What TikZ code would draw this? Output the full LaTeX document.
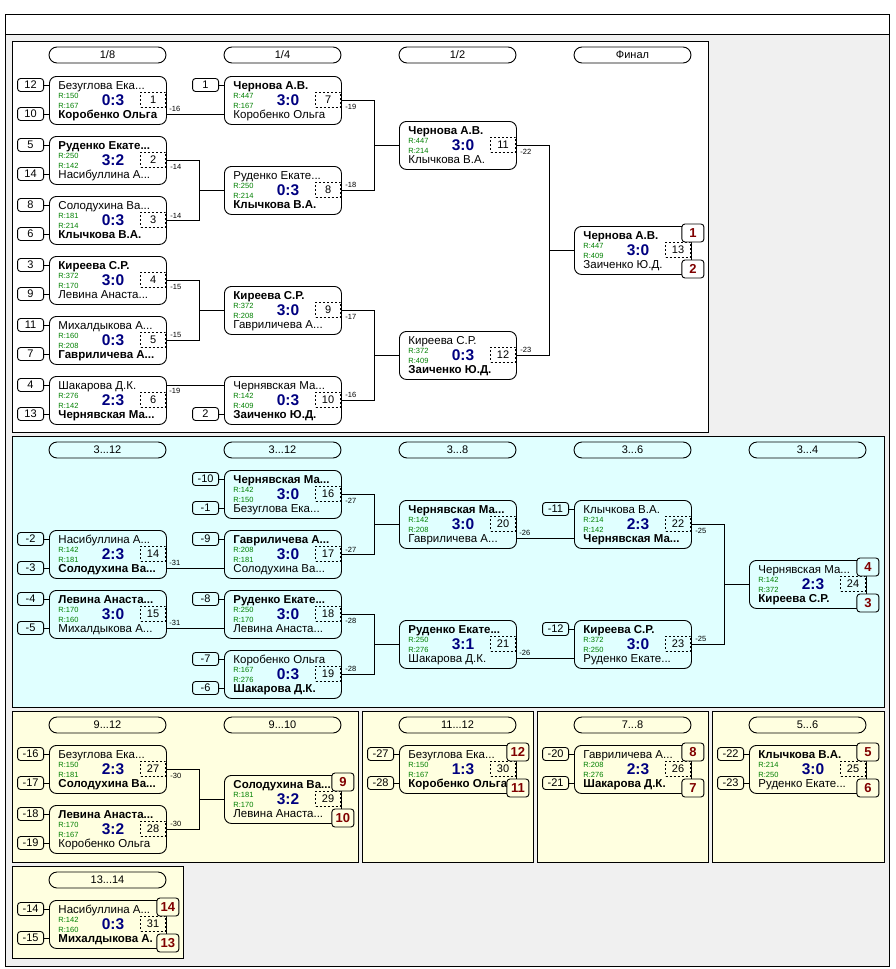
\documentclass[tikz,border=0pt]{standalone}
\usepackage{fontspec}
\setmainfont{Liberation Sans}
\usetikzlibrary{positioning}

\definecolor{rgreen}{RGB}{0,128,0}
\definecolor{scoreblue}{RGB}{0,0,128}
\definecolor{placered}{RGB}{128,0,0}
\definecolor{bggray}{RGB}{240,240,240}
\definecolor{cyanbg}{RGB}{224,255,255}
\definecolor{yellowbg}{RGB}{255,255,224}

% one match: id, left, top, upper name, R upper, R lower, score, lower name
\newcommand{\mtch}[8]{%
  \node[mbox] (m#1) at (#2,#3) {};
  \coordinate (m#1-a) at (#2,#3+9);
  \coordinate (m#1-b) at (#2,#3+38);
  \coordinate (m#1-ea) at (#2+117,#3+9);
  \coordinate (m#1-eb) at (#2+117,#3+38);
  \node[nm] (m#1-top) at (#2+9,#3+13) {#4};
  \node[rt] (m#1-r1) at (#2+9,#3+22) {R:#5};
  \node[rt] (m#1-r2) at (#2+9,#3+32) {R:#6};
  \node[nm] (m#1-bot) at (#2+9,#3+42) {#8};
  \node[sc] (m#1-sc) at (#2+64,#3+29) {#7};
  \node[numbox] (m#1-no) at (#2+117,#3+16) {#1};
}
% seed box left of a slot
\newcommand{\seed}[3]{%
  \node[seedbox, left=5pt of #1] (#2) {#3};
  \draw (#2) -- (#1);
}
% final places of a match
\newcommand{\place}[4]{%
  \node[placebox=#4] (m#1-p1) at ([xshift=1pt,yshift=-7pt]m#1.north east) {#2};
  \node[placebox=#4] (m#1-p2) at ([xshift=1pt,yshift=-43pt]m#1.north east) {#3};
}

\begin{document}
\begin{tikzpicture}[x=1pt, y=-1pt, line width=0.9pt,
    mbox/.style={draw, rounded corners=7pt, minimum width=117pt, minimum height=48pt,
                 inner sep=0pt, anchor=north west},
    nm/.style={anchor=base west, inner sep=0pt, font=\fontsize{11.5}{13}\selectfont},
    rt/.style={anchor=base west, inner sep=0pt, text=rgreen, font=\fontsize{7.5}{8}\selectfont},
    sc/.style={anchor=base, inner sep=0pt, text=scoreblue, font=\fontsize{15.5}{17}\selectfont\bfseries},
    numbox/.style={draw, dash pattern=on 2pt off 2pt, line width=0.8pt, minimum width=25pt,
                   minimum height=15pt, inner sep=0pt, anchor=north east,
                   font=\fontsize{11}{12}\selectfont},
    seedbox/.style={draw, rounded corners=3pt, minimum width=26pt, minimum height=13pt,
                    inner sep=0pt, font=\fontsize{11}{12}\selectfont},
    placebox/.style={draw, rounded corners=3pt, fill=#1, minimum width=22pt, minimum height=18pt,
                     inner sep=0pt, text=placered, font=\fontsize{13}{14}\selectfont\bfseries},
    placebox/.default=white,
    hdr/.style={draw, rounded corners=8pt, minimum width=117pt, minimum height=16pt,
                inner sep=0pt, font=\fontsize{11}{12}\selectfont},
    link/.style={draw},
    lbla/.style={pos=0, anchor=south west, inner sep=0pt, xshift=3pt, yshift=2pt,
                 font=\fontsize{7.5}{8}\selectfont},
    lblb/.style={pos=0, anchor=north west, inner sep=0pt, xshift=3pt, yshift=-3pt,
                 font=\fontsize{7.5}{8}\selectfont}
  ]
  \useasboundingbox (0,0) rectangle (895,969);
  \fill[white] (0,0) rectangle (895,969);

  % frames and panels
  \draw[fill=white] (5,14) rectangle (889,34);
  \draw[fill=bggray] (5,34) rectangle (889,966);
  \draw[fill=white] (12,41) rectangle (708,432);
  \draw[fill=cyanbg] (12,436) rectangle (884,707);
  \draw[fill=yellowbg] (12,711) rectangle (358,862);
  \draw[fill=yellowbg] (362,711) rectangle (533,862);
  \draw[fill=yellowbg] (537,711) rectangle (708,862);
  \draw[fill=yellowbg] (712,711) rectangle (884,862);
  \draw[fill=yellowbg] (12,866) rectangle (183,958);

  % headers
  \node[hdr] (h18) at (107.5,55) {1/8};
  \node[hdr] (h14) at (282.5,55) {1/4};
  \node[hdr] (h12) at (457.5,55) {1/2};
  \node[hdr] (hfin) at (632.5,55) {Финал};
  \node[hdr] (hc1) at (107.5,450) {3...12};
  \node[hdr] (hc2) at (282.5,450) {3...12};
  \node[hdr] (hc3) at (457.5,450) {3...8};
  \node[hdr] (hc4) at (632.5,450) {3...6};
  \node[hdr] (hc5) at (807.5,450) {3...4};
  \node[hdr] (hy1) at (107.5,725) {9...12};
  \node[hdr] (hy2) at (282.5,725) {9...10};
  \node[hdr] (hy3) at (457.5,725) {11...12};
  \node[hdr] (hy4) at (632.5,725) {7...8};
  \node[hdr] (hy5) at (807.5,725) {5...6};
  \node[hdr] (hy6) at (107.5,880) {13...14};

  % main bracket
  \mtch{1}{49}{76}{Безуглова Ека...}{150}{167}{0:3}{\textbf{Коробенко Ольга}}
  \mtch{2}{49}{136}{\textbf{Руденко Екате...}}{250}{142}{3:2}{Насибуллина А...}
  \mtch{3}{49}{196}{Солодухина Ва...}{181}{214}{0:3}{\textbf{Клычкова В.А.}}
  \mtch{4}{49}{256}{\textbf{Киреева С.Р.}}{372}{170}{3:0}{Левина Анаста...}
  \mtch{5}{49}{316}{Михалдыкова А...}{160}{208}{0:3}{\textbf{Гавриличева А...}}
  \mtch{6}{49}{376}{Шакарова Д.К.}{276}{142}{2:3}{\textbf{Чернявская Ма...}}
  \mtch{7}{224}{76}{\textbf{Чернова А.В.}}{447}{167}{3:0}{Коробенко Ольга}
  \mtch{8}{224}{166}{Руденко Екате...}{250}{214}{0:3}{\textbf{Клычкова В.А.}}
  \mtch{9}{224}{286}{\textbf{Киреева С.Р.}}{372}{208}{3:0}{Гавриличева А...}
  \mtch{10}{224}{376}{Чернявская Ма...}{142}{409}{0:3}{\textbf{Заиченко Ю.Д.}}
  \mtch{11}{399}{121}{\textbf{Чернова А.В.}}{447}{214}{3:0}{Клычкова В.А.}
  \mtch{12}{399}{331}{Киреева С.Р.}{372}{409}{0:3}{\textbf{Заиченко Ю.Д.}}
  \mtch{13}{574}{226}{\textbf{Чернова А.В.}}{447}{409}{3:0}{Заиченко Ю.Д.}
  \place{13}{1}{2}{white}

  \seed{m1-a}{s1a}{12}   \seed{m1-b}{s1b}{10}
  \seed{m2-a}{s2a}{5}    \seed{m2-b}{s2b}{14}
  \seed{m3-a}{s3a}{8}    \seed{m3-b}{s3b}{6}
  \seed{m4-a}{s4a}{3}    \seed{m4-b}{s4b}{9}
  \seed{m5-a}{s5a}{11}   \seed{m5-b}{s5b}{7}
  \seed{m6-a}{s6a}{4}    \seed{m6-b}{s6b}{13}
  \seed{m7-a}{s7a}{1}
  \seed{m10-b}{s10b}{2}

  \draw[link] (m1-eb) -- node[lbla] (l1) {-16} (m7-b);
  \draw[link] (m2.east) -- node[lblb] (l2) {-14} ++(33,0) |- (m8.west);
  \draw[link] (m3.east) -- node[lbla] (l3) {-14} ++(33,0) |- (m8.west);
  \draw[link] (m4.east) -- node[lblb] (l4) {-15} ++(33,0) |- (m9.west);
  \draw[link] (m5.east) -- node[lbla] (l5) {-15} ++(33,0) |- (m9.west);
  \draw[link] (m6-ea) -- node[lblb] (l6) {-19} (m10-a);
  \draw[link] (m7.east) -- node[lblb] (l7) {-19} ++(33,0) |- (m11.west);
  \draw[link] (m8.east) -- node[lbla] (l8) {-18} ++(33,0) |- (m11.west);
  \draw[link] (m9.east) -- node[lblb] (l9) {-17} ++(33,0) |- (m12.west);
  \draw[link] (m10.east) -- node[lbla] (l10) {-16} ++(33,0) |- (m12.west);
  \draw[link] (m11.east) -- node[lblb] (l11) {-22} ++(33,0) |- (m13.west);
  \draw[link] (m12.east) -- node[lbla] (l12) {-23} ++(33,0) |- (m13.west);

  % places 3 to 12
  \mtch{14}{49}{530}{Насибуллина А...}{142}{181}{2:3}{\textbf{Солодухина Ва...}}
  \mtch{15}{49}{590}{\textbf{Левина Анаста...}}{170}{160}{3:0}{Михалдыкова А...}
  \mtch{16}{224}{470}{\textbf{Чернявская Ма...}}{142}{150}{3:0}{Безуглова Ека...}
  \mtch{17}{224}{530}{\textbf{Гавриличева А...}}{208}{181}{3:0}{Солодухина Ва...}
  \mtch{18}{224}{590}{\textbf{Руденко Екате...}}{250}{170}{3:0}{Левина Анаста...}
  \mtch{19}{224}{650}{Коробенко Ольга}{167}{276}{0:3}{\textbf{Шакарова Д.К.}}
  \mtch{20}{399}{500}{\textbf{Чернявская Ма...}}{142}{208}{3:0}{Гавриличева А...}
  \mtch{21}{399}{620}{\textbf{Руденко Екате...}}{250}{276}{3:1}{Шакарова Д.К.}
  \mtch{22}{574}{500}{Клычкова В.А.}{214}{142}{2:3}{\textbf{Чернявская Ма...}}
  \mtch{23}{574}{620}{\textbf{Киреева С.Р.}}{372}{250}{3:0}{Руденко Екате...}
  \mtch{24}{749}{560}{Чернявская Ма...}{142}{372}{2:3}{\textbf{Киреева С.Р.}}
  \place{24}{4}{3}{cyanbg}

  \seed{m14-a}{s14a}{-2}  \seed{m14-b}{s14b}{-3}
  \seed{m15-a}{s15a}{-4}  \seed{m15-b}{s15b}{-5}
  \seed{m16-a}{s16a}{-10} \seed{m16-b}{s16b}{-1}
  \seed{m17-a}{s17a}{-9}
  \seed{m18-a}{s18a}{-8}
  \seed{m19-a}{s19a}{-7}  \seed{m19-b}{s19b}{-6}
  \seed{m22-a}{s22a}{-11}
  \seed{m23-a}{s23a}{-12}

  \draw[link] (m14-eb) -- node[lbla] (l14) {-31} (m17-b);
  \draw[link] (m15-eb) -- node[lbla] (l15) {-31} (m18-b);
  \draw[link] (m16.east) -- node[lblb] (l16) {-27} ++(33,0) |- (m20.west);
  \draw[link] (m17.east) -- node[lbla] (l17) {-27} ++(33,0) |- (m20.west);
  \draw[link] (m18.east) -- node[lblb] (l18) {-28} ++(33,0) |- (m21.west);
  \draw[link] (m19.east) -- node[lbla] (l19) {-28} ++(33,0) |- (m21.west);
  \draw[link] (m20-eb) -- node[lbla] (l20) {-26} (m22-b);
  \draw[link] (m21-eb) -- node[lbla] (l21) {-26} (m23-b);
  \draw[link] (m22.east) -- node[lblb] (l22) {-25} ++(33,0) |- (m24.west);
  \draw[link] (m23.east) -- node[lbla] (l23) {-25} ++(33,0) |- (m24.west);

  % places 9 to 12
  \mtch{27}{49}{745}{Безуглова Ека...}{150}{181}{2:3}{\textbf{Солодухина Ва...}}
  \mtch{28}{49}{805}{\textbf{Левина Анаста...}}{170}{167}{3:2}{Коробенко Ольга}
  \mtch{29}{224}{775}{\textbf{Солодухина Ва...}}{181}{170}{3:2}{Левина Анаста...}
  \place{29}{9}{10}{yellowbg}
  \seed{m27-a}{s27a}{-16} \seed{m27-b}{s27b}{-17}
  \seed{m28-a}{s28a}{-18} \seed{m28-b}{s28b}{-19}
  \draw[link] (m27.east) -- node[lblb] (l27) {-30} ++(33,0) |- (m29.west);
  \draw[link] (m28.east) -- node[lbla] (l28) {-30} ++(33,0) |- (m29.west);

  % single matches
  \mtch{30}{399}{745}{Безуглова Ека...}{150}{167}{1:3}{\textbf{Коробенко Ольга}}
  \place{30}{12}{11}{yellowbg}
  \seed{m30-a}{s30a}{-27} \seed{m30-b}{s30b}{-28}

  \mtch{26}{574}{745}{Гавриличева А...}{208}{276}{2:3}{\textbf{Шакарова Д.К.}}
  \place{26}{8}{7}{yellowbg}
  \seed{m26-a}{s26a}{-20} \seed{m26-b}{s26b}{-21}

  \mtch{25}{749}{745}{\textbf{Клычкова В.А.}}{214}{250}{3:0}{Руденко Екате...}
  \place{25}{5}{6}{yellowbg}
  \seed{m25-a}{s25a}{-22} \seed{m25-b}{s25b}{-23}

  \mtch{31}{49}{900}{Насибуллина А...}{142}{160}{0:3}{\textbf{Михалдыкова А.}}
  \place{31}{14}{13}{yellowbg}
  \seed{m31-a}{s31a}{-14} \seed{m31-b}{s31b}{-15}
\end{tikzpicture}
\end{document}
